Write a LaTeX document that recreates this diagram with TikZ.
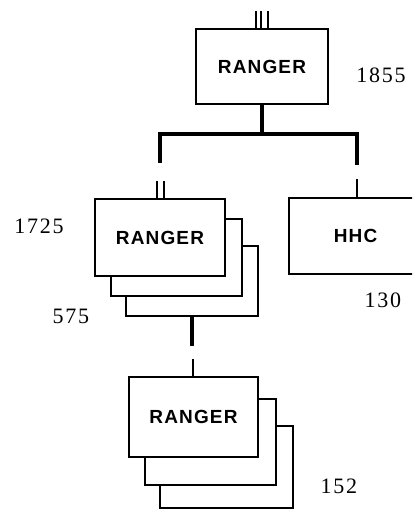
\documentclass[tikz,border=0pt]{standalone}
\usepackage{fontspec}
\usepackage{tikz}
\usetikzlibrary{positioning,calc}
\newfontfamily\unitfont[LetterSpace=6]{Liberation Sans Bold}
\newfontfamily\strengthfont[LetterSpace=8]{Liberation Serif}

\begin{document}
\begin{tikzpicture}[
    x=1pt, y=-1pt,
    unit/.style={rectangle, draw, line width=1.5pt, fill=white,
                 inner sep=0pt, text centered,
                 font=\unitfont\fontsize{19}{22}\selectfont},
    strength/.style={inner sep=0pt, font=\strengthfont\fontsize{22}{25}\selectfont},
    trunk/.style={line width=4pt},
    echelon/.style={line width=1.4pt}
]
\useasboundingbox (0,0) rectangle (412,510);
\clip (0,0) rectangle (412,510);

% Regiment
\node[unit, minimum width=132pt, minimum height=75pt] (regt) at (262,66.5) {RANGER};

% Battalions (stacked)
\node[unit, minimum width=132pt, minimum height=70pt] (bn3) at (192,281) {};
\node[unit, minimum width=131pt, minimum height=77pt] (bn2) at (176.5,257.5) {};
\node[unit, minimum width=130pt, minimum height=77pt] (bn)  at (160,237.5) {RANGER};

% Headquarters company
\node[unit, minimum width=133pt, minimum height=76pt] (hhc) at (355.5,236) {HHC};

% Companies (stacked)
\node[unit, minimum width=133pt, minimum height=82pt] (co3) at (226.5,467) {};
\node[unit, minimum width=131pt, minimum height=86pt] (co2) at (210.5,442) {};
\node[unit, minimum width=129pt, minimum height=80pt] (co)  at (193.5,417) {RANGER};

% Strengths
\node[strength] (sregt) at (381,75)  {1855};
\node[strength] (sbn)   at (39,226)  {1725};
\node[strength] (sbn3)  at (71,316)  {575};
\node[strength] (shhc)  at (383,300) {130};
\node[strength] (sco)   at (339,486) {152};

% Command lines
\coordinate (jn)      at (262,134);
\coordinate (bndrop)  at (160,163);
\coordinate (hhcdrop) at (357,165);
\coordinate (codrop)  at (192,346);
\draw[trunk] (regt.south) -- (jn);
\draw[trunk] (bndrop) |- (jn) -| (hhcdrop);
\draw[trunk] (bn3.south) -- (codrop);

% Echelon marks
\foreach \dx in {-6,-1,6}
    \draw[echelon] ([xshift=\dx pt]regt.north) -- ++(0,-17);
\foreach \dx in {-3,4}
    \draw[echelon] ([xshift=\dx pt]bn.north) -- ++(0,-17);
\draw[echelon] ([xshift=1.5pt]hhc.north) -- ++(0,-18);
\draw[echelon] ([xshift=-0.5pt]co.north) -- ++(0,-17);

\end{tikzpicture}
\end{document}
